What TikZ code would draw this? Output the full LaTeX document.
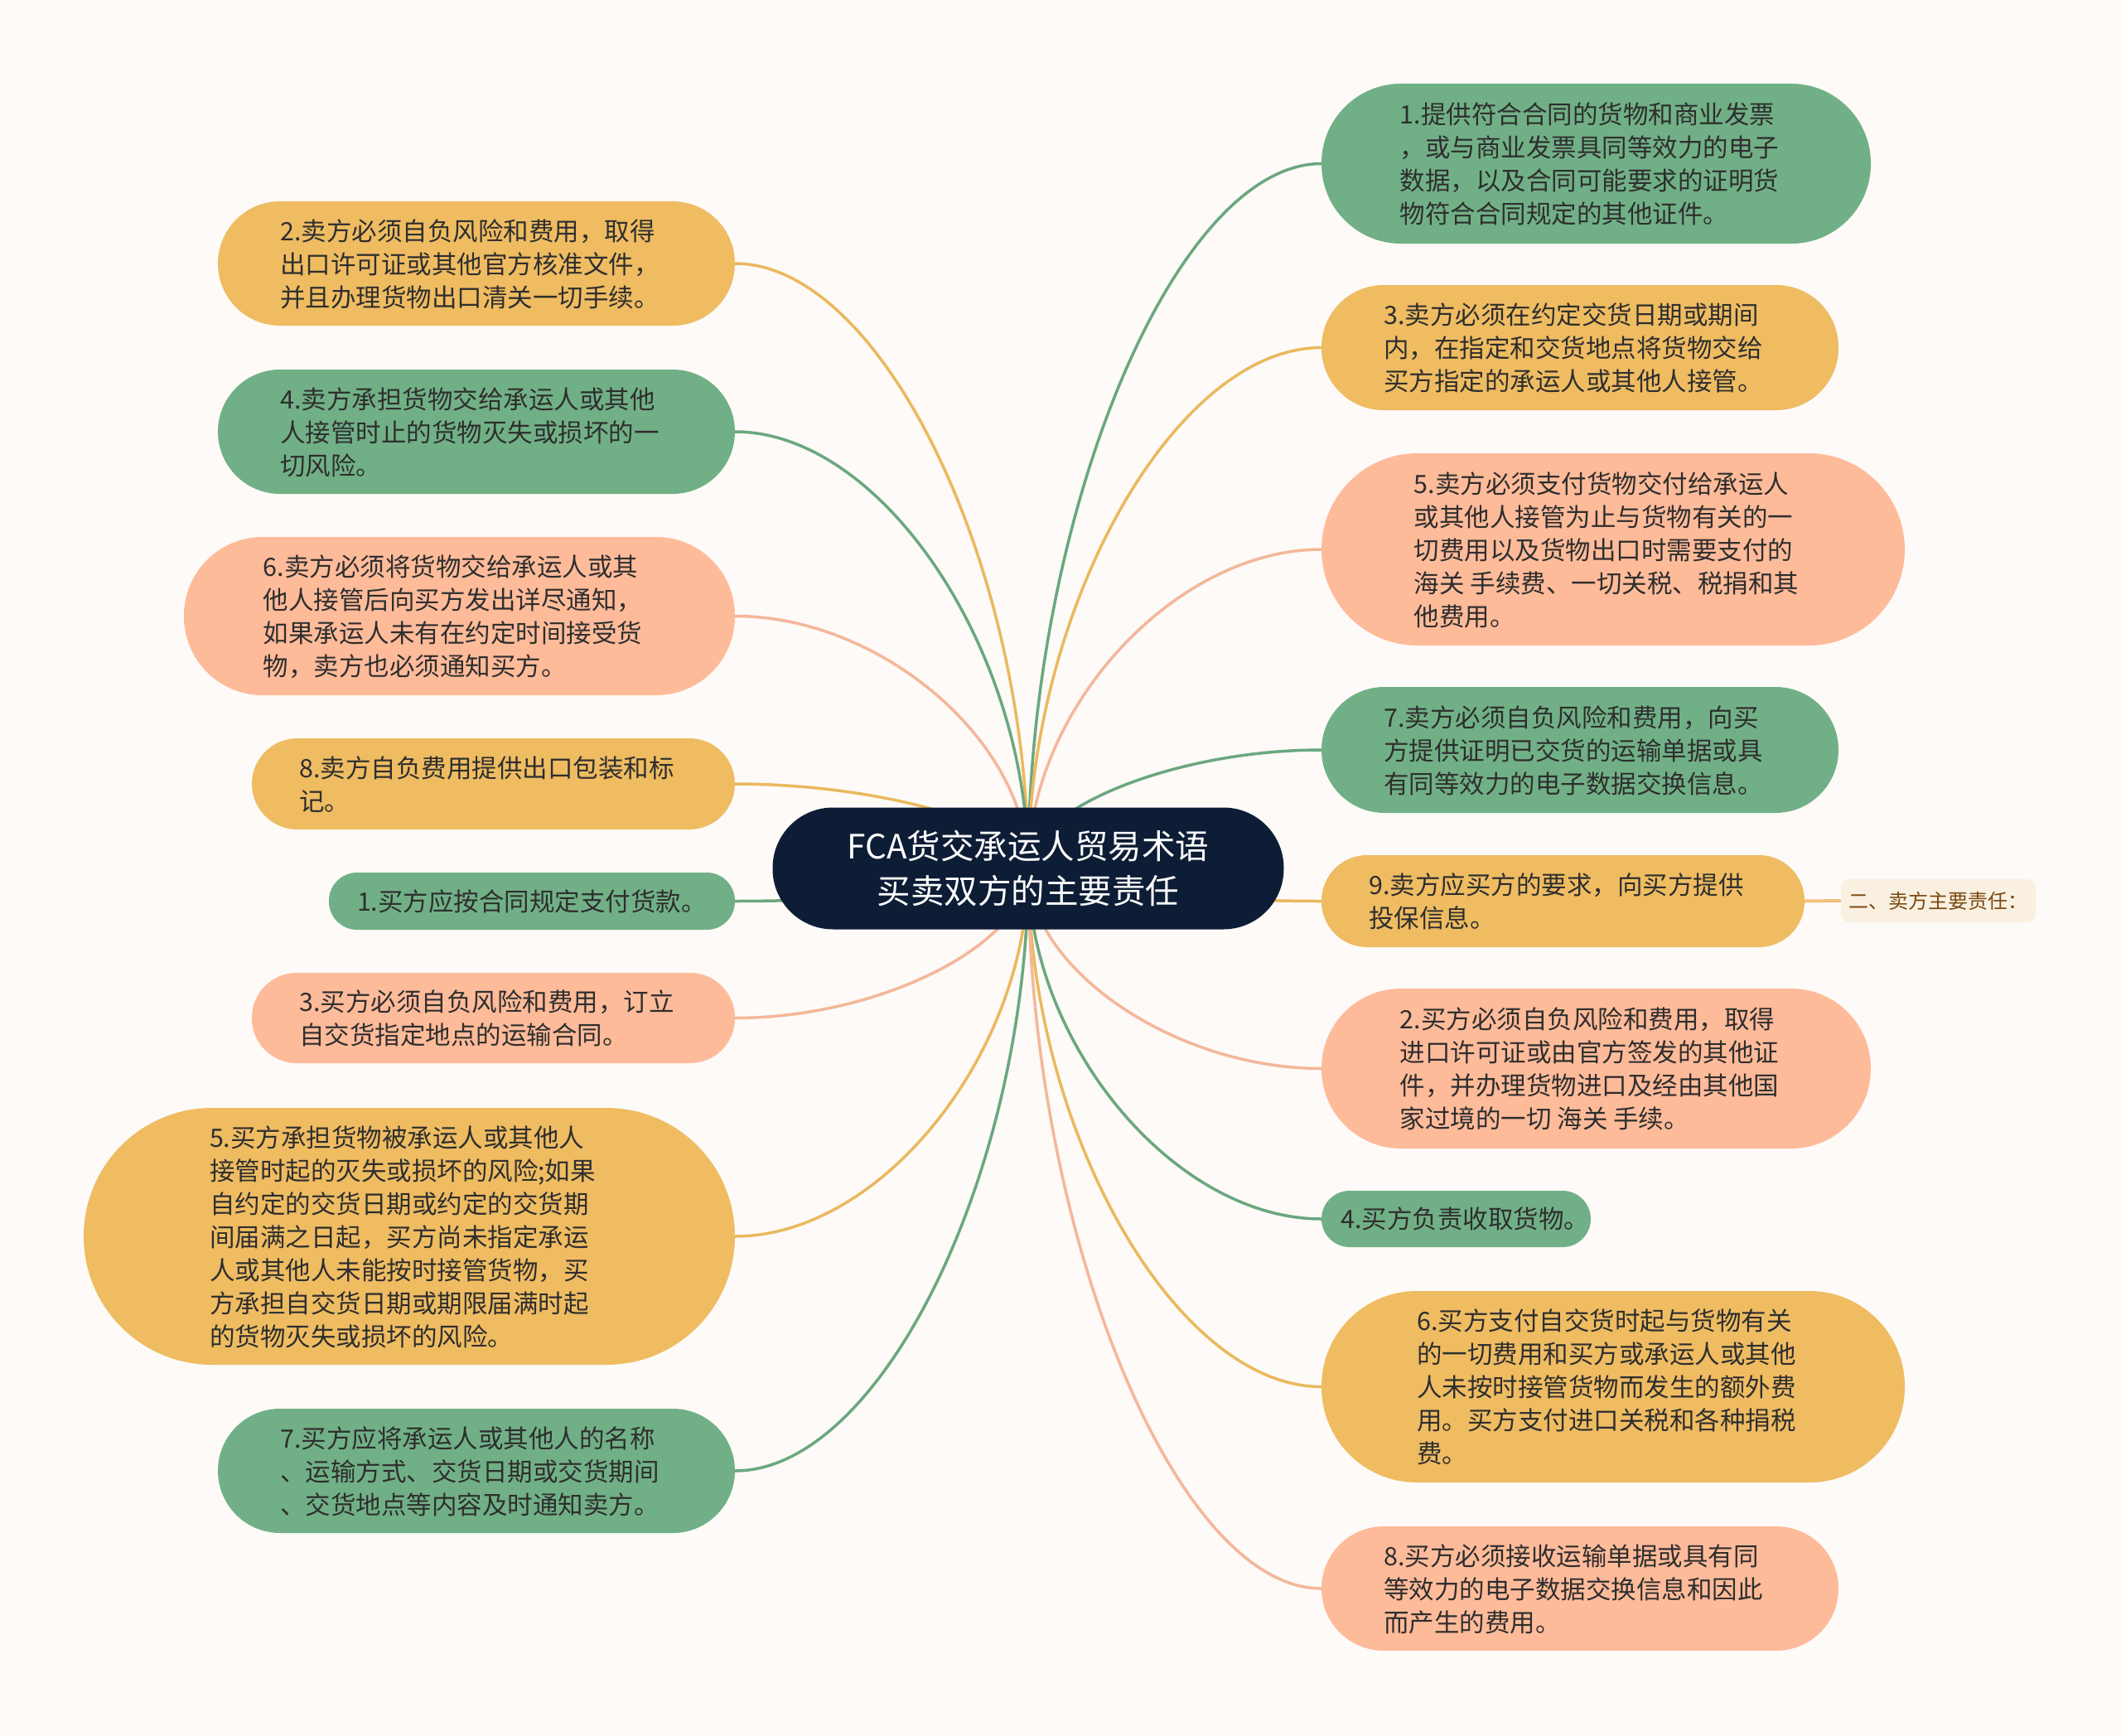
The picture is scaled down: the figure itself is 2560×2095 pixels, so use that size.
\documentclass[tikz,border=0pt]{standalone}
\usepackage{fontspec}
\setmainfont{Noto Sans CJK SC}
\usetikzlibrary{calc,backgrounds}
\definecolor{bgc}{HTML}{FDFAF8}
\definecolor{gfill}{HTML}{71B086}
\definecolor{yfill}{HTML}{EFBC62}
\definecolor{sfill}{HTML}{FEBB9A}
\definecolor{gline}{HTML}{6BA77F}
\definecolor{yline}{HTML}{EAB95E}
\definecolor{sline}{HTML}{F4B799}
\definecolor{navy}{HTML}{0E1D36}
\definecolor{txt}{HTML}{2E2E2E}
\definecolor{labfill}{HTML}{FAF0E1}
\definecolor{labtxt}{HTML}{7A4A12}
\definecolor{labline}{HTML}{EFC27E}
\tikzset{
  box/.style={rectangle, inner sep=0pt, text=txt,
    font=\fontsize{30.5}{40}\selectfont},
  conn/.style={line width=3.5pt, line cap=round},
}
\newcommand\tb[1]{\begin{tabular}{@{}l@{}}\rule{0pt}{36pt}#1\end{tabular}\hspace*{16pt}}
\newcommand\conn[2]{%
  \draw[conn,#2] let \p1=(c.center), \p2=(#1) in
    (\p1) .. controls (\x1,{0.5*\y1+0.5*\y2}) and ({0.5*\x1+0.5*\x2},\y2) .. (\p2);}
\begin{document}
\begin{tikzpicture}[x=1pt,y=-1pt]
\useasboundingbox (0,0) rectangle (2560,2095);

% center
\node[rectangle, fill=navy, minimum width=617pt, minimum height=147pt,
  rounded corners=73pt, text=white, align=center, inner sep=0pt,
  font=\fontsize{40.5}{54}\selectfont] (c) at (1241,1048)
  {FCA货交承运人贸易术语\\买卖双方的主要责任};

% right side
\node[box, fill=gfill, minimum width=663pt, minimum height=193pt, rounded corners=96pt] (r1) at (1926.5,197.5)
  {\tb{1.提供符合合同的货物和商业发票\\，或与商业发票具同等效力的电子\\数据，以及合同可能要求的证明货\\物符合合同规定的其他证件。}};
\node[box, fill=yfill, minimum width=624pt, minimum height=151pt, rounded corners=75pt] (r2) at (1907,419.5)
  {\tb{3.卖方必须在约定交货日期或期间\\内，在指定和交货地点将货物交给\\买方指定的承运人或其他人接管。}};
\node[box, fill=sfill, minimum width=704pt, minimum height=232pt, rounded corners=116pt] (r3) at (1947,663)
  {\tb{5.卖方必须支付货物交付给承运人\\或其他人接管为止与货物有关的一\\切费用以及货物出口时需要支付的\\海关 手续费、一切关税、税捐和其\\他费用。}};
\node[box, fill=gfill, minimum width=624pt, minimum height=152pt, rounded corners=76pt] (r4) at (1907,905)
  {\tb{7.卖方必须自负风险和费用，向买\\方提供证明已交货的运输单据或具\\有同等效力的电子数据交换信息。}};
\node[box, fill=yfill, minimum width=583pt, minimum height=111pt, rounded corners=55pt] (r5) at (1886.5,1087.5)
  {\tb{9.卖方应买方的要求，向买方提供\\投保信息。}};
\node[box, fill=sfill, minimum width=663pt, minimum height=193pt, rounded corners=96pt] (r6) at (1926.5,1289.5)
  {\tb{2.买方必须自负风险和费用，取得\\进口许可证或由官方签发的其他证\\件，并办理货物进口及经由其他国\\家过境的一切 海关 手续。}};
\node[box, fill=gfill, minimum width=325pt, minimum height=68pt, rounded corners=34pt] (r7) at (1757.5,1471)
  {\hspace*{22pt}\rule{0pt}{26pt}4.买方负责收取货物。};
\node[box, fill=yfill, minimum width=704pt, minimum height=231pt, rounded corners=115pt] (r8) at (1947,1673.5)
  {\tb{6.买方支付自交货时起与货物有关\\的一切费用和买方或承运人或其他\\人未按时接管货物而发生的额外费\\用。买方支付进口关税和各种捐税\\费。}};
\node[box, fill=sfill, minimum width=624pt, minimum height=150pt, rounded corners=75pt] (r9) at (1907,1917)
  {\tb{8.买方必须接收运输单据或具有同\\等效力的电子数据交换信息和因此\\而产生的费用。}};

% left side
\node[box, fill=yfill, minimum width=624pt, minimum height=150pt, rounded corners=75pt] (l1) at (575,318)
  {\tb{2.卖方必须自负风险和费用，取得\\出口许可证或其他官方核准文件，\\并且办理货物出口清关一切手续。}};
\node[box, fill=gfill, minimum width=624pt, minimum height=150pt, rounded corners=75pt] (l2) at (575,521)
  {\tb{4.卖方承担货物交给承运人或其他\\人接管时止的货物灭失或损坏的一\\切风险。}};
\node[box, fill=sfill, minimum width=665pt, minimum height=191pt, rounded corners=95pt] (l3) at (554.5,743.5)
  {\tb{6.卖方必须将货物交给承运人或其\\他人接管后向买方发出详尽通知，\\如果承运人未有在约定时间接受货\\物，卖方也必须通知买方。}};
\node[box, fill=yfill, minimum width=583pt, minimum height=110pt, rounded corners=55pt] (l4) at (595.5,946)
  {\tb{8.卖方自负费用提供出口包装和标\\记。}};
\node[box, fill=gfill, minimum width=490pt, minimum height=69pt, rounded corners=34pt] (l5) at (642,1087.5)
  {\rule{0pt}{26pt}1.买方应按合同规定支付货款。};
\node[box, fill=sfill, minimum width=583pt, minimum height=109pt, rounded corners=54pt] (l6) at (595.5,1228.5)
  {\tb{3.买方必须自负风险和费用，订立\\自交货指定地点的运输合同。}};
\node[box, fill=yfill, minimum width=786pt, minimum height=310pt, rounded corners=155pt] (l7) at (494,1492)
  {\tb{5.买方承担货物被承运人或其他人\\接管时起的灭失或损坏的风险;如果\\自约定的交货日期或约定的交货期\\间届满之日起，买方尚未指定承运\\人或其他人未能按时接管货物，买\\方承担自交货日期或期限届满时起\\的货物灭失或损坏的风险。}};
\node[box, fill=gfill, minimum width=624pt, minimum height=150pt, rounded corners=75pt] (l8) at (575,1775)
  {\tb{7.买方应将承运人或其他人的名称\\、运输方式、交货日期或交货期间\\、交货地点等内容及时通知卖方。}};

% label
\node[rectangle, fill=labfill, rounded corners=10pt, minimum width=235pt, minimum height=52pt,
  inner sep=0pt, text=labtxt, font=\fontsize{24}{28}\selectfont] (lab) at (2339.5,1087) {二、卖方主要责任：};

\begin{pgfonlayer}{background}
\fill[bgc] (0,0) rectangle (2560,2095);
\conn{r1.west}{gline}
\conn{r2.west}{yline}
\conn{r3.west}{sline}
\conn{r4.west}{gline}
\conn{r5.west}{yline}
\conn{r6.west}{sline}
\conn{r7.west}{gline}
\conn{r8.west}{yline}
\conn{r9.west}{sline}
\conn{l1.east}{yline}
\conn{l2.east}{gline}
\conn{l3.east}{sline}
\conn{l4.east}{yline}
\conn{l5.east}{gline}
\conn{l6.east}{sline}
\conn{l7.east}{yline}
\conn{l8.east}{gline}
\draw[labline, line width=4pt] (r5.east) -- (lab.west);
\end{pgfonlayer}
\end{tikzpicture}
\end{document}
